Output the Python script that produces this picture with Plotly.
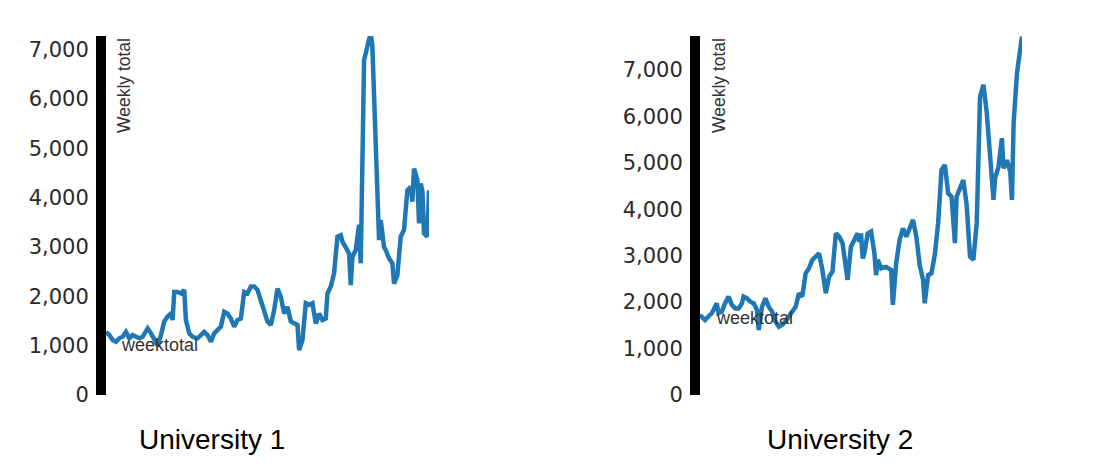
import plotly.graph_objects as go

# University 1 weekly totals
u1_week = [0, 2, 4, 6, 8, 10, 12, 14, 16, 18, 20, 22, 25, 27, 29, 31, 33, 35, 37, 39, 40, 41, 43, 45, 47, 48,
           50, 52, 55, 57, 59, 61, 63, 65, 67, 69, 71, 73, 75, 77, 79, 81, 83, 85, 87, 89, 91, 93, 95, 97, 99,
           101, 103, 105, 107, 109, 111, 113, 115, 116, 118, 120, 122, 124, 126, 128, 130, 132, 133, 135, 137,
           139, 141, 142, 144, 146, 147, 148, 150, 151, 152, 153, 155, 156, 157, 159, 160, 161, 163, 164, 165,
           167, 168, 170, 172, 173, 175, 177, 179, 181, 183, 184, 185, 187, 188, 189, 190, 191, 193, 194]
u1_total = [1280, 1215, 1115, 1080, 1150, 1180, 1280, 1150, 1215, 1180, 1150, 1180, 1350, 1250, 1150, 1010,
            1215, 1490, 1590, 1650, 1520, 2090, 2090, 2060, 2130, 1520, 1250, 1180, 1150, 1215, 1280, 1215,
            1080, 1250, 1320, 1385, 1690, 1650, 1550, 1385, 1520, 1550, 2090, 2060, 2200, 2200, 2130, 1925,
            1650, 1490, 1420, 1720, 2160, 1990, 1650, 1790, 1490, 1450, 1420, 910, 1115, 1860, 1825, 1860,
            1450, 1650, 1520, 1550, 2060, 2200, 2470, 3210, 3240, 3110, 2970, 2870, 2230, 2800, 2940, 3280,
            3450, 2670, 6790, 6930, 7060, 7350, 7060, 6050, 3890, 3140, 3550, 3000, 2940, 2770, 2670, 2260,
            2430, 3210, 3350, 4150, 4220, 3920, 4590, 4360, 3480, 4290, 4150, 3280, 3210, 4150]

# University 2 weekly totals
u2_week = [0, 2, 3, 5, 7, 9, 10, 11, 13, 15, 17, 19, 21, 23, 25, 26, 28, 30, 32, 34, 35, 37, 39, 41, 43, 45,
           47, 49, 51, 53, 55, 57, 59, 61, 63, 65, 67, 69, 71, 73, 75, 77, 79, 81, 83, 85, 87, 88, 90, 92, 94,
           95, 96, 97, 98, 100, 102, 104, 105, 106, 108, 111, 114, 115, 117, 119, 121, 123, 125, 127, 129, 131,
           133, 134, 136, 138, 140, 142, 144, 146, 148, 150, 152, 153, 155, 157, 159, 161, 163, 165, 167, 169,
           171, 173, 175, 176, 178, 180, 181, 183, 185, 186, 187, 189, 190, 192]
u2_total = [1720, 1650, 1615, 1690, 1760, 1900, 1975, 1760, 1795, 1975, 2120, 1940, 1865, 1865, 1975, 2120,
            2080, 2010, 1975, 1830, 1400, 1900, 2080, 1900, 1795, 1580, 1470, 1510, 1580, 1690, 1795, 1900,
            2190, 2120, 2620, 2730, 2910, 2980, 3050, 2690, 2190, 2550, 2660, 3480, 3410, 3270, 2760, 2480,
            3195, 3340, 3480, 3300, 3480, 2940, 3050, 3480, 3520, 3050, 2580, 2910, 2730, 2760, 2690, 1940,
            2840, 3340, 3590, 3410, 3590, 3770, 3410, 2800, 2480, 1975, 2580, 2620, 3015, 3700, 4850, 4950,
            4340, 4270, 3270, 4270, 4450, 4630, 4090, 2980, 2910, 3700, 6425, 6680, 6070, 5060, 4200, 4670,
            4920, 5530, 4880, 5060, 4810, 4200, 5850, 6930, 7215, 7720]

titles = ["University 1", "University 2"]
y_title = "Weekly total"
series_name = "weektotal"

W, H = 1102, 476
OFF = 8  # page body margin offset
LINE = "#1f77b4"

TOP = 36 - OFF
BOT = 395 - OFF

fig = go.Figure()
fig.add_trace(go.Scatter(x=u1_week, y=u1_total, mode="lines", line=dict(color=LINE, width=4.5),
                         xaxis="x", yaxis="y", showlegend=False))
fig.add_trace(go.Scatter(x=u2_week, y=u2_total, mode="lines", line=dict(color=LINE, width=4.5),
                         xaxis="x2", yaxis="y2", showlegend=False))

yax = dict(showline=True, linewidth=10, linecolor="black", ticks="", showgrid=False, zeroline=False,
           tickformat=",", dtick=1000, ticklabelstandoff=3,
           tickfont=dict(family="DejaVu Sans", size=21, color="#2a2a2a"))
xax = dict(visible=False, showgrid=False, zeroline=False)

def px(x):
    return (x - OFF) / W

fig.update_layout(
    width=W, height=H,
    margin=dict(l=0, r=0, t=TOP, b=H - BOT),
    paper_bgcolor="white", plot_bgcolor="white",
    xaxis=dict(xax, domain=[px(106), px(429)], range=[0, 194]),
    xaxis2=dict(xax, domain=[px(700), px(1022)], range=[0, 192]),
    yaxis=dict(yax, anchor="x", range=[0, 7280]),
    yaxis2=dict(yax, anchor="x2", range=[0, 7730]),
)

ph = float(BOT - TOP)
def py(ypx):
    return (BOT - (ypx - OFF)) / ph

ann = []
for xc in (123.5, 718.5):
    ann.append(dict(text=y_title, x=px(xc), y=1, xref="paper", yref="paper", xanchor="center",
                    yanchor="top", textangle=-90, showarrow=False,
                    font=dict(family="Liberation Sans", size=17.5, color="#333")))
for xc, yc in ((159.5, 345), (754.5, 318)):
    ann.append(dict(text=series_name, x=px(xc), y=py(yc), xref="paper", yref="paper", xanchor="center",
                    yanchor="middle", showarrow=False,
                    font=dict(family="Liberation Sans", size=18, color="#333")))
for xc, t in zip((211.5, 840), titles):
    ann.append(dict(text=t, x=px(xc), y=py(439), xref="paper", yref="paper", xanchor="center",
                    yanchor="middle", showarrow=False,
                    font=dict(family="Liberation Sans", size=28, color="black")))
fig.update_layout(annotations=ann)

fig.write_html("out.html")
